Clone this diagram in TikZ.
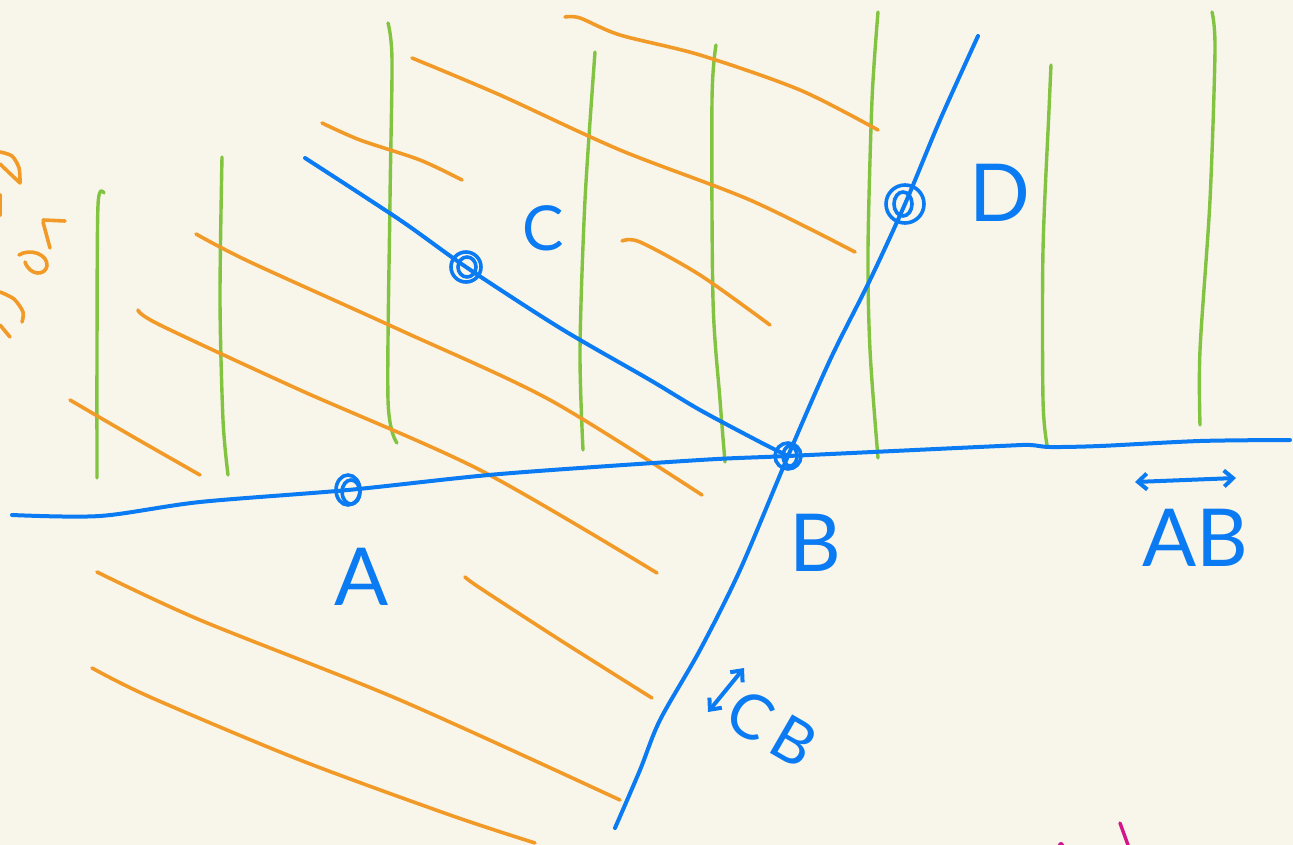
\documentclass[tikz,border=0pt]{standalone}
\usepackage{fontspec}
\setmainfont{Lato}
\usetikzlibrary{arrows.meta,positioning}
\definecolor{paper}{HTML}{F8F6EA}
\definecolor{pen}{HTML}{0A7BF2}
\definecolor{hatch}{HTML}{F29A28}
\definecolor{grass}{HTML}{82C341}
\definecolor{ink}{HTML}{D4148C}

\begin{document}
\begin{tikzpicture}
                [
                x=1pt,y=-1pt,
                blueline/.style={pen,line width=4pt,line cap=round,line join=round},
                orangeline/.style={hatch,line width=3.6pt,line cap=round,line join=round},
                greenline/.style={grass,line width=3.4pt,line cap=round,line join=round},
                ptmark/.style={pen,line width=3.6pt},
                lbl/.style={pen,font=\fontsize{80}{80}\selectfont,inner sep=0pt},
                edge/.style={<->,>={Straight Barb[length=9pt,width=16pt]},blueline}
                ]
            \fill[paper] (0,0) rectangle (1293,845);
            \useasboundingbox (0,0) rectangle (1293,845);
            % points
            \coordinate (A) at (348,490);
            \coordinate (B) at (788,456);
            \coordinate (C) at (466,267);
            \coordinate (D) at (905,204);
            \coordinate (Lw) at (12,515);
            \coordinate (Le) at (1290,440);
            \coordinate (Rc) at (305,158);
            \coordinate (Dn) at (978,36);
            \coordinate (Ds) at (615,828);
            % green shading
            \draw[greenline] plot[smooth] coordinates {(104,193) (98,205) (97,350) (97,478)};
            \draw[greenline] plot[smooth] coordinates {(222,157) (220,300) (223,420) (228,475)};
            \draw[greenline] plot[smooth] coordinates {(388,23) (392,60) (390,200) (388,400) (397,443)};
            \draw[greenline] plot[smooth] coordinates {(595,52) (585,200) (580,350) (583,450)};
            \draw[greenline] plot[smooth] coordinates {(716,45) (712,100) (713,300) (720,400) (725,462)};
            \draw[greenline] plot[smooth] coordinates {(878,12) (872,100) (868,250) (870,350) (878,458)};
            \draw[greenline] plot[smooth] coordinates {(1051,65) (1049,110) (1043,250) (1043,400) (1047,445)};
            \draw[greenline] plot[smooth] coordinates {(1212,12) (1215,50) (1210,200) (1200,350) (1200,425)};
            % orange shading
            \draw[orangeline] plot[smooth] coordinates {(565,17) (580,18) (620,35) (700,55) (800,90) (878,130)};
            \draw[orangeline] plot[smooth] coordinates {(412,58) (500,95) (620,150) (750,200) (855,252)};
            \draw[orangeline] plot[smooth] coordinates {(322,123) (360,140) (420,160) (462,180)};
            \draw[orangeline] plot[smooth] coordinates {(622,241) (640,242) (700,275) (770,325)};
            \draw[orangeline] plot[smooth] coordinates {(196,234) (250,262) (400,330) (550,400) (702,495)};
            \draw[orangeline] plot[smooth] coordinates {(138,310) (160,325) (300,390) (480,470) (657,573)};
            \draw[orangeline] plot[smooth] coordinates {(70,400) (130,435) (200,475)};
            \draw[orangeline] plot[smooth] coordinates {(97,572) (200,620) (400,700) (620,800)};
            \draw[orangeline] plot[smooth] coordinates {(92,668) (150,697) (300,760) (450,815) (535,843)};
            \draw[orangeline] plot[smooth] coordinates {(465,577) (480,588) (560,640) (652,698)};
            % cut-off writing at the left edge
            \draw[orangeline] plot[smooth] coordinates {(0,152) (12,156) (19,168) (20,183)} -- (0,164);
            \draw[orangeline] (0,195) -- (0,215);
            \draw[orangeline] (43,220) -- (65,221);
            \draw[orangeline] (43,222) -- (50,248);
            \draw[orangeline] (19,255) .. controls (30,248) and (48,254) .. (47,266)
                              .. controls (45,276) and (30,276) .. (25,262);
            \draw[orangeline] plot[smooth] coordinates {(0,292) (14,299) (23,312) (22,322)};
            \draw[orangeline] (0,325) -- (10,337);
            % magenta marks
            \draw[ink,line width=3.4pt,line cap=round] (1120,823) -- (1128,845);
            \fill[ink] (1061,845) circle (3);
            % lines
            \draw[blueline] plot[smooth] coordinates {(Lw) (100,516) (200,502) (A) (500,474) (700,460) (B) (1000,446) (1030,445) (1050,447) (1100,446) (1200,441) (Le)};
            \draw[blueline] plot[smooth] coordinates {(Rc) (400,220) (C) (560,328) (650,380) (700,410) (760,442) (B)};
            \draw[blueline] plot[smooth] coordinates {(Dn) (940,120) (D) (870,280) (830,360) (B) (740,570) (700,650) (660,720) (640,770) (Ds)};
            % point marks
            \draw[ptmark] (A) ellipse (12 and 15);
            \draw[ptmark] ([xshift=3pt,yshift=-2pt]A) ellipse (9 and 12);
            \draw[ptmark] (B) circle (13);
            \draw[ptmark] ([xshift=2pt]B) ellipse (7 and 10);
            \draw[ptmark] (C) circle (15);
            \draw[ptmark] ([xshift=1pt]C) ellipse (9 and 10);
            \draw[ptmark] (D) circle (19);
            \draw[ptmark] ([xshift=-2pt]D) ellipse (9 and 12);
            % labels
            \node[lbl] (labA) at (362,577) {A};
            \node[lbl] (labB) at (815,543) {B};
            \node[lbl,font=\fontsize{62}{62}\selectfont] (labC) at (543,228) {C};
            \node[lbl] (labD) at (1000,193) {D};
            \node[lbl] (labAB) at (1195,538) {AB};
            \coordinate (abL) at (1135,482);
            \coordinate (abR) at (1236,478);
            \draw[edge] (abL) -- (abR);
            \node[lbl,font=\fontsize{62}{62}\selectfont,rotate=-30] (labCB) at (772,728) {C\,B};
            \coordinate (cbL) at (708,712);
            \coordinate (cbR) at (744,668);
            \draw[edge] (cbL) -- (cbR);
            \end{tikzpicture}
\end{document}
